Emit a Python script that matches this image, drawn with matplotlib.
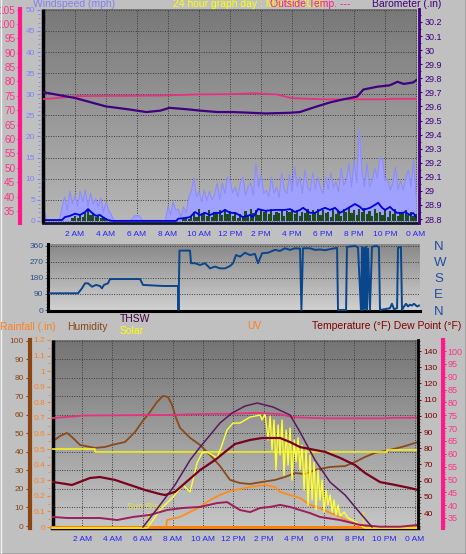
import numpy as np
import matplotlib
matplotlib.use("Agg")
import matplotlib.pyplot as plt
from matplotlib.colors import LinearSegmentedColormap
from matplotlib.ticker import MultipleLocator
from matplotlib.lines import Line2D

plt.rcParams['font.family'] = ['Liberation Sans', 'DejaVu Sans']

# ---------------- data ----------------
tick_hours = [2, 4, 6, 8, 10, 12, 14, 16, 18, 20, 22, 24]
tick_labels = ["2 AM", "4 AM", "6 AM", "8 AM", "10 AM", "12 PM",
               "2 PM", "4 PM", "6 PM", "8 PM", "10 PM", "0 AM"]

# barometer (in)
baro_t = [0.0, 1.0, 2.0, 3.0, 4.0, 5.4, 6.6, 7.5, 8.1, 9.2, 10.1, 11.2, 12.2,
          13.3, 14.3, 15.9, 16.5, 17.6, 18.5, 19.3, 20.2, 20.6, 21.5, 22.3,
          22.8, 23.2, 23.8, 24.06]
baro_v = [29.70, 29.68, 29.66, 29.63, 29.60, 29.58, 29.56, 29.57, 29.59, 29.58,
          29.57, 29.56, 29.56, 29.555, 29.55, 29.555, 29.56, 29.60, 29.63,
          29.65, 29.67, 29.72, 29.74, 29.75, 29.775, 29.76, 29.77, 29.79]

# inside temperature (°F), pink line in both panels
tin_t = [0.0, 1.6, 2.0, 7.5, 10.0, 12.0, 13.5, 15.0, 16.0, 18.0, 22.0, 22.5, 24.2]
tin_v = [73.9, 74.6, 74.9, 75.1, 75.5, 75.6, 75.9, 75.5, 74.2, 73.8, 73.8, 74.0, 74.0]

# wind, one sample every 10 minutes (mph)
wind_hi = [2.6, 0.2, 0.2, 0.2, 0.2, 0.2, 0.2,
           3.3, 5.7, 2.5, 7.0, 4.0, 6.0, 3.5, 7.0, 4.5, 7.3, 3.3, 6.6, 4.0, 5.2,
           3.5, 5.5, 2.0, 4.5, 2.5, 1.5, 0.2,
           0.1, 0.1, 0.1, 0.1, 0.1, 0.1,
           0.3, 1.2, 1.2, 1.2, 0.2,
           0.1, 0.1, 0.1, 0.1, 0.1, 0.1, 0.1, 0.1, 0.1,
           3.5, 1.5, 4.5, 2.5, 2.8, 1.0, 3.3, 2.0, 5.5, 7.0,
           10.2, 5.7, 7.0, 4.5, 7.3, 4.8, 7.0, 5.0, 6.2, 9.0,
           5.0, 9.0, 6.5, 10.4, 9.6, 6.6, 8.0, 5.7, 9.0, 10.4,
           6.0, 8.0, 9.0, 6.0, 13.7, 8.0, 10.9, 6.5, 7.3, 5.7,
           10.4, 6.5, 8.0, 5.5, 11.4, 7.3, 6.5, 10.9, 7.0, 12.8,
           8.0, 10.4, 6.5, 12.1, 8.0, 7.0, 11.4, 7.5, 10.4, 7.8,
           6.5, 10.4, 7.5, 11.4, 8.0, 9.2, 7.0, 12.6, 8.5, 9.5,
           13.7, 8.0, 14.5, 9.0, 21.6, 12.1, 8.0, 13.7, 8.0, 9.5,
           12.6, 10.0, 15.0, 14.5, 9.5, 10.0, 7.3, 9.0, 12.8, 7.5,
           9.5, 7.3, 10.0, 12.1, 8.0, 14.5, 5.7]
wind_low = [0] * 11 + \
    [0.8, 1.2, 0.6, 1.5, 1.0, 2.0, 2.6, 1.4, 1.8, 0.9, 1.2, 0.6, 0.9, 0.4, 0.3, 0.2] + \
    [0] * 27 + \
    [0.4, 0.8, 0.5, 1.2, 2.2, 1.0, 2.8, 1.5, 2.0, 1.2, 2.6, 1.0, 2.2, 1.8, 2.6, 1.4, 2.9, 1.6, 2.4, 1.2,
     2.0, 0.8, 1.6, 1.0, 2.4, 1.2, 2.9, 1.8, 2.6, 1.4, 2.8, 2.0, 2.6, 1.6, 2.9, 1.4, 2.2, 1.8, 2.7, 1.2,
     2.4, 2.0, 2.9, 1.6, 2.6, 1.2, 2.2, 1.8, 2.8, 1.4, 2.5, 2.0, 2.9, 1.5, 2.6, 1.8, 2.2, 1.0, 2.8, 1.6,
     2.4, 1.2, 2.9, 2.0, 3.1, 1.8, 2.6, 1.4, 2.8, 2.2, 3.0, 1.6, 2.4, 1.2, 2.7, 1.8, 2.2, 1.4, 2.6, 1.0,
     2.4, 1.6, 2.8, 1.2, 2.2, 1.8, 2.6, 1.4, 2.0, 1.2, 1.6]

wind_avg_t = [0, 1.16, 1.35, 1.68, 2.0, 2.32, 2.65, 2.84, 3.1, 3.35, 3.61, 3.87, 4.13,
              4.39, 8.52, 8.65, 9.1, 9.42, 9.74, 10.06, 10.39, 10.71, 11.03, 11.35,
              11.68, 12.0, 12.32, 12.84, 13.29, 13.48, 13.81, 14.26, 14.9, 15.55,
              15.87, 16.19, 16.52, 16.71, 17.16, 17.48, 17.81, 18.13, 18.45, 18.77,
              19.1, 19.42, 19.74, 20.06, 20.39, 20.58, 21.03, 21.35, 21.55, 21.81,
              22.0, 22.32, 22.52, 22.77, 23.1, 23.29, 23.61, 23.81, 24.0]
wind_avg_v = [0.2, 0.2, 0.9, 1.2, 1.7, 1.4, 2.1, 2.8, 1.9, 1.2, 1.4, 0.7, 0.2,
              0.0, 0.0, 0.5, 0.7, 0.9, 2.1, 1.4, 1.9, 1.4, 1.9, 1.9,
              2.6, 1.9, 1.9, 0.9, 1.4, 0.9, 2.8, 2.4, 2.6, 2.6,
              2.8, 2.1, 2.6, 3.1, 1.9, 1.9, 2.6, 3.1, 2.6, 3.1,
              1.9, 2.6, 3.3, 4.0, 3.3, 2.6, 3.1, 3.8, 4.3, 3.1,
              2.6, 3.3, 2.6, 1.9, 1.9, 2.1, 1.4, 1.9, 0.9]

# wind direction (degrees)
dir_t = [0.13, 1.94, 2.19, 2.39, 2.58, 2.84, 3.10, 3.35, 3.48, 3.61, 3.87, 4.0,
         5.94, 6.13, 7.42, 8.39, 8.42, 8.48, 9.16, 9.23, 9.48, 9.81, 10.13, 10.45,
         10.77, 11.1, 11.42, 11.74, 11.94, 12.13, 12.39, 12.71, 13.03, 13.35,
         13.55, 13.81, 14.19, 14.65, 14.97, 15.29, 15.61, 15.94, 16.26, 16.35,
         16.45, 16.9, 17.23, 17.55, 17.87, 18.19, 18.52, 18.65, 18.71, 19.23,
         19.29, 19.61, 19.81, 20.0, 20.19, 20.26, 20.32, 20.39, 20.45, 20.52,
         20.58, 20.65, 20.77, 20.9, 21.03, 21.23, 21.35, 21.42, 21.74, 22.06,
         22.19, 22.32, 22.52, 22.58, 22.77, 22.84, 22.97, 23.1, 23.23, 23.35,
         23.48, 23.61, 23.81, 23.94]
dir_v = [94, 94, 122, 150, 150, 131, 141, 135, 122, 141, 150, 174,
         174, 141, 135, 135, 0, 334, 334, 263, 263, 253, 263, 234,
         244, 234, 234, 247, 263, 309, 300, 322, 309, 315,
         263, 319, 322, 338, 332, 347, 338, 347, 345, 0,
         347, 347, 338, 340, 336, 342, 347, 350, 0, 0,
         355, 358, 360, 352, 0, 355, 0, 350, 5, 355,
         0, 345, 0, 355, 358, 360, 350, 0, 5, 10,
         35, 5, 10, 350, 355, 0, 20, 35, 20, 30,
         25, 35, 20, 25]

# humidity (%)
hum_t = [0.07, 0.53, 0.99, 1.32, 1.85, 2.84, 3.51, 3.97, 4.83, 5.49, 5.95, 6.48,
         6.94, 7.34, 7.67, 7.94, 8.2, 8.47, 9.13, 9.79, 10.45, 11.11, 11.77,
         12.43, 13.1, 13.89, 14.75, 15.41, 16.07, 16.73, 17.39, 18.39, 19.38,
         20.04, 20.7, 21.36, 22.35, 23.35, 24.2]
hum_v = [45.9, 48.6, 50.3, 48.1, 43.8, 42.2, 42.7, 43.8, 45.4, 50.8, 56.2, 61.6,
         67.0, 70.3, 69.7, 65.4, 58.4, 53.0, 47.6, 43.8, 38.4, 32.4, 24.9,
         23.2, 22.7, 23.8, 24.9, 26.5, 28.6, 28.1, 30.3, 31.9, 32.4,
         34.6, 37.3, 39.5, 41.1, 43.2, 45.4]

# outside temperature (°F)
temp_t = [0.07, 0.53, 1.32, 2.51, 3.17, 4.17, 5.16, 6.15, 7.14, 7.47, 8.13, 8.8,
          9.79, 10.78, 11.44, 12.1, 13.1, 13.89, 15.08, 15.74, 16.4, 17.39,
          18.06, 19.05, 20.04, 20.7, 21.69, 22.69, 23.68, 24.2]
temp_v = [59.1, 58.5, 57.3, 61.6, 62.2, 60.4, 57.3, 54.2, 51.7, 51.1, 53.0, 58.5,
          66.5, 72.7, 77.7, 82.6, 85.1, 86.3, 86.3, 83.8, 80.7, 78.9,
          77.7, 74.0, 69.6, 64.7, 59.1, 57.3, 55.4, 54.2]

# THSW index (°F)
thsw_t = [6.02, 7.14, 8.13, 9.13, 9.79, 10.45, 11.11, 11.9, 12.76, 13.56, 14.62,
          15.74, 16.4, 17.39, 18.39, 19.38, 20.37, 21.16]
thsw_v = [31.4, 44.9, 57.3, 72.7, 80.7, 88.1, 95.6, 101.7, 106.0, 107.9, 105.4,
          100.5, 90.0, 72.7, 59.0, 51.1, 40.0, 31.4]

# dew point (°F)
dew_t = [0.07, 0.99, 3.17, 4.3, 5.36, 6.48, 7.61, 8.66, 9.79, 10.91, 11.57, 12.43,
         13.1, 13.76, 14.42, 15.08, 15.74, 16.4, 17.06, 17.72, 19.05, 20.37,
         21.69, 23.02, 24.2]
dew_v = [35.4, 35.0, 35.0, 34.2, 35.4, 36.2, 38.1, 38.9, 39.3, 40.8, 41.2, 38.1,
         37.3, 38.9, 39.3, 40.1, 39.3, 38.1, 36.9, 35.4, 34.2, 32.3,
         31.6, 31.6, 32.3]

# solar radiation (W/m2)
solar_t = [0.0, 6.28, 6.35, 7.14, 8.0, 8.66, 9.13, 9.59, 9.92, 10.25, 10.91, 11.24,
           11.57, 11.97, 12.43, 13.1, 13.76, 13.89, 14.09, 14.29, 14.42, 14.55,
           14.68, 14.81, 14.95, 15.08, 15.21, 15.34, 15.48, 15.61, 15.74, 15.87,
           16.01, 16.14, 16.27, 16.4, 16.53, 16.67, 16.8, 16.93, 17.06, 17.2,
           17.33, 17.46, 17.59, 17.72, 17.86, 17.99, 18.12, 18.25, 18.39, 18.52,
           18.65, 18.78, 18.92, 19.05, 19.31, 19.58, 19.84, 20.11, 20.37, 20.57,
           20.7, 24.2]
solar_v = [0, 0, 6, 105, 181, 252, 211, 380, 439, 445, 410, 486,
           573, 614, 614, 649, 661, 632, 667, 515, 655, 456,
           632, 339, 603, 427, 632, 310, 573, 369, 585, 281,
           515, 386, 527, 339, 486, 222, 456, 135, 427, 164,
           386, 105, 339, 164, 281, 94, 222, 135, 193, 94,
           164, 76, 135, 70, 94, 59, 47, 35, 18, 6,
           0, 0]
solar_ref_t = [0.0, 2.84, 2.84, 22.16, 22.16, 24.2]
solar_ref_v = [462, 462, 445, 445, 456, 456]
sunrise = 6.35
sunset = 20.57

# UV index
uv_t = [7.54, 7.6, 8.47, 9.79, 10.45, 11.11, 11.77, 13.1, 14.09, 14.75, 15.08,
        15.74, 16.4, 17.06, 17.72, 18.39, 19.05, 19.71, 20.37, 20.7]
uv_v = [0, 0.68, 0.94, 1.79, 2.38, 2.81, 3.15, 3.49, 3.66, 3.49, 3.06,
        2.81, 2.55, 1.96, 1.7, 1.28, 0.94, 0.51, 0.26, 0]

# rainfall (in)
rain_t = [0.0, 24.2]
rain_v = [0.0, 0.0]

# ---------------- helpers ----------------
W, H = 466, 554
BG = '#c0c0c0'
PX = 0.72  # points per pixel at 100 dpi


def box(l, t, r, b):
    return [l / W, 1 - b / H, (r - l) / W, (b - t) / H]


def backdrop(ax, top, bottom):
    grad = np.linspace(0, 1, 256).reshape(-1, 1)
    cmap = LinearSegmentedColormap.from_list('bg', [top, bottom])
    ax.imshow(grad, extent=[0, 1, 0, 1], transform=ax.transAxes, aspect='auto',
              cmap=cmap, zorder=0, interpolation='bilinear')


def left_twin(ax):
    tw = ax.twinx()
    tw.yaxis.tick_left()
    tw.spines['right'].set_visible(False)
    tw.spines['left'].set_visible(True)
    tw.spines['top'].set_visible(False)
    tw.spines['bottom'].set_visible(False)
    return tw


def yticks_style(ax, color, labelcolor, minor, length=3.0, size=6.0):
    ax.yaxis.set_minor_locator(MultipleLocator(minor))
    ax.tick_params(axis='y', which='major', colors=color, labelcolor=labelcolor,
                   labelsize=size, length=length * PX, width=0.8, pad=1.2)
    ax.tick_params(axis='y', which='minor', colors=color, length=1.6 * PX, width=0.6)


def vborder(ax, x, color='k', lw=2.5):
    ax.plot([x, x], [0, 1], transform=ax.transAxes, color=color, lw=lw,
            clip_on=False, zorder=6, solid_capstyle='butt')


fig = plt.figure(figsize=(W / 100, H / 100), dpi=100, facecolor=BG)
grid_kw = dict(color='#3c3c3c', linestyle=(0, (1, 1.5)), linewidth=0.7)

# ---------------- top panel : wind / barometer ----------------
ax_t = fig.add_axes(box(43, 9, 417, 223))
backdrop(ax_t, '#787878', '#b8b8b8')
wind_time = np.arange(len(wind_hi)) / 6
ax_t.fill_between(wind_time, 0, wind_hi, color='#a0a0ff', lw=0, zorder=2)
ax_t.plot(wind_time, wind_hi, color='#8c8cff', lw=0.8, zorder=2)
ax_t.bar(wind_time, wind_low, width=0.14, color='#1e4a1e', zorder=3)
ax_t.plot(wind_avg_t, wind_avg_v, color='#0000e6', lw=1.3, zorder=4)
ax_t.set_xlim(-0.065, 24.06)
ax_t.set_ylim(-0.5, 50.2)
ax_t.set_yticks(range(0, 51, 5))
ax_t.set_xticks(tick_hours)
ax_t.set_xticklabels(tick_labels)
ax_t.tick_params(axis='x', length=0, pad=6, labelsize=6, labelcolor='#2323ff')
yticks_style(ax_t, '#8080ff', '#8080ff', 1)
ax_t.grid(True, **grid_kw)
for g in ax_t.get_xgridlines() + ax_t.get_ygridlines():
    g.set_zorder(1)
ax_t.spines['left'].set_position(('outward', 3 * PX))
ax_t.spines['left'].set_visible(False)
ax_t.spines['top'].set_visible(False)
ax_t.spines['right'].set_visible(False)
ax_t.spines['bottom'].set_color('#101830')
ax_t.spines['bottom'].set_linewidth(2)
vborder(ax_t, 0)

ax_pk = left_twin(ax_t)
ax_pk.plot(tin_t, tin_v, color='#e8307f', lw=1.3)
ax_pk.set_ylim(30.8, 105.2)
ax_pk.set_yticks(range(35, 106, 5))
yticks_style(ax_pk, '#ff1a8c', '#ff3388', 1, size=7.2)
ax_pk.spines['left'].set_position(('outward', 23 * PX))
ax_pk.spines['left'].set_color('#ff1a8c')
ax_pk.spines['left'].set_linewidth(3)

ax_ba = ax_t.twinx()
ax_ba.plot(baro_t, baro_v, color='#400080', lw=1.6)
ax_ba.set_ylim(28.772, 30.292)
baro_ticks = [28.8, 28.9, 29.0, 29.1, 29.2, 29.3, 29.4, 29.5, 29.6, 29.7, 29.8,
              29.9, 30.0, 30.1, 30.2]
ax_ba.set_yticks(baro_ticks)
ax_ba.set_yticklabels([f"{v:g}" for v in baro_ticks])
yticks_style(ax_ba, '#400080', '#400080', 0.05, size=6.5)
ax_ba.tick_params(axis='y', pad=2)
for s in ['left', 'top', 'bottom']:
    ax_ba.spines[s].set_visible(False)
ax_ba.spines['right'].set_position(('outward', 2 * PX))
ax_ba.spines['right'].set_color('#400080')
ax_ba.spines['right'].set_linewidth(2)

# ---------------- middle panel : wind direction ----------------
ax_m = fig.add_axes(box(48, 244, 420, 311))
backdrop(ax_m, '#888888', '#d2d2d2')
ax_m.plot(dir_t, dir_v, color='#0a468c', lw=1.4, zorder=3)
ax_m.set_xlim(0, 24)
ax_m.set_ylim(-5.6, 371)
ax_m.set_xticks(tick_hours)
ax_m.tick_params(axis='x', length=0, labelbottom=False)
ax_m.set_yticks([0, 90, 180, 270, 360])
ax_m.set_yticklabels(['0', '90', '180', '270', '360'])
yticks_style(ax_m, '#3a5a9a', '#2e4f8c', 18)
ax_m.grid(True, axis='y', **grid_kw)
for g in ax_m.get_ygridlines():
    g.set_zorder(1)
for s in ['top', 'right']:
    ax_m.spines[s].set_visible(False)
ax_m.spines['left'].set_linewidth(2.2)
ax_m.spines['bottom'].set_linewidth(2.2)

ax_m2 = ax_m.twinx()
ax_m2.set_ylim(ax_m.get_ylim())
ax_m2.set_yticks([0, 90, 180, 270, 360])
ax_m2.set_yticklabels(['N', 'E', 'S', 'W', 'N'])
ax_m2.tick_params(axis='y', length=0, pad=14 * PX, labelsize=9.5, labelcolor='#1f4f9f')
for s in ax_m2.spines.values():
    s.set_visible(False)

# ---------------- bottom panel : temperatures / humidity / solar ----------------
ax_b = fig.add_axes(box(52, 340, 418, 528))
backdrop(ax_b, '#747474', '#c6c6c6')
ax_b.plot(hum_t, hum_v, color='#8b4a1a', lw=1.3, zorder=3)
ax_b.set_xlim(0, 24.2)
ax_b.set_ylim(-1.08, 100.5)
ax_b.set_yticks(range(0, 101, 10))
ax_b.set_xticks(tick_hours)
ax_b.set_xticklabels(tick_labels)
ax_b.tick_params(axis='x', length=0, pad=6, labelsize=6, labelcolor='#2323ff')
yticks_style(ax_b, '#8b4513', '#8b4513', 2, length=4.5)
ax_b.grid(True, **grid_kw)
for g in ax_b.get_xgridlines() + ax_b.get_ygridlines():
    g.set_zorder(1)
ax_b.spines['left'].set_position(('outward', 22 * PX))
ax_b.spines['left'].set_color('#8b4513')
ax_b.spines['left'].set_linewidth(3)
ax_b.spines['top'].set_visible(False)
ax_b.spines['right'].set_visible(False)
ax_b.spines['bottom'].set_linewidth(2.5)
vborder(ax_b, 0.003)

ax_rn = left_twin(ax_b)
ax_rn.plot(rain_t, rain_v, color='#ff7f00', lw=2.2, clip_on=False)
ax_rn.set_ylim(-0.0064, 1.2)
rain_ticks = [0, 0.1, 0.2, 0.3, 0.4, 0.5, 0.6, 0.7, 0.8, 0.9, 1.0, 1.1, 1.2]
ax_rn.set_yticks(rain_ticks)
ax_rn.set_yticklabels([f"{v:g}" for v in rain_ticks])
yticks_style(ax_rn, '#ff8020', '#ff8020', 0.05)
ax_rn.spines['left'].set_visible(False)
ax_rn.spines['left'].set_position(('outward', 2 * PX))

ax_uv = ax_b.twinx()
ax_uv.axis('off')
ax_uv.set_ylim(0, 16)
ax_uv.plot(uv_t, uv_v, color='#ff8c1a', lw=1.3)

ax_sol = ax_b.twinx()
ax_sol.axis('off')
ax_sol.set_ylim(0, 1100)
ax_sol.plot(solar_ref_t, solar_ref_v, color='#f4f020', lw=1.2)
ax_sol.plot(solar_t, solar_v, color='#ffff30', lw=1.0, clip_on=False)
ax_sol.plot([sunrise, sunrise], [6, 88], color='#f0e020', lw=1)
ax_sol.plot([sunset, sunset], [6, 94], color='#f0e020', lw=1)
ax_sol.text(sunrise - 0.15, 123, 'Sun Rise', color='#e8e040', fontsize=6.5,
            ha='center', va='center')

ax_dw = ax_b.twinx()
ax_dw.plot(dew_t, dew_v, color='#9c1f5b', lw=1.4)
ax_dw.plot(tin_t, tin_v, color='#e8307f', lw=1.3)
ax_dw.set_ylim(31.1, 104.3)
ax_dw.set_yticks(range(35, 101, 5))
yticks_style(ax_dw, '#ff1a8c', '#ff3388', 1, size=6.5)
for s in ['left', 'top', 'bottom']:
    ax_dw.spines[s].set_visible(False)
ax_dw.spines['right'].set_position(('outward', 25 * PX))
ax_dw.spines['right'].set_color('#ff1a8c')
ax_dw.spines['right'].set_linewidth(3)

ax_tp = ax_b.twinx()
ax_tp.plot(thsw_t, thsw_v, color='#5a1a5a', lw=1.1)
ax_tp.plot(temp_t, temp_v, color='#7a0020', lw=1.6)
ax_tp.set_ylim(30.74, 146.8)
ax_tp.set_yticks(range(40, 141, 10))
yticks_style(ax_tp, '#800000', '#800000', 2)
ax_tp.tick_params(axis='y', pad=2)
for s in ['left', 'top', 'bottom']:
    ax_tp.spines[s].set_visible(False)
ax_tp.spines['right'].set_color('k')
ax_tp.spines['right'].set_linewidth(2)

# ---------------- header texts ----------------
def ftext(x, y, s, color, size=7.5, ha='left'):
    fig.text(x / W, 1 - y / H, s, color=color, fontsize=size, ha=ha, va='center')


ftext(33, 4, 'Windspeed (mph)', '#8080ff')
ftext(173, 4, '24 hour graph day : Mar 04 2026', '#ffff00')
ftext(350, 4, 'Outside Temp. ---', '#ff1a8c', ha='right')
ftext(372, 4, 'Barometer (.in)', '#400080')

ftext(0, 327, 'Rainfall (.in)', '#ff8020')
ftext(67, 327, 'Humidity', '#8b4513')
ftext(120, 319, 'THSW', '#400040')
ftext(120, 331, 'Solar', '#ffff00')
ftext(247, 326, 'UV', '#ff8020')
ftext(312, 326, 'Temperature (°F) Dew Point (°F)', '#800000')

# window frame
fig.add_artist(Line2D([0, 1], [0.5 / H, 0.5 / H], color='#404040', lw=1))
fig.add_artist(Line2D([1 - 0.5 / W, 1 - 0.5 / W], [0, 1], color='#404040', lw=1))
fig.add_artist(Line2D([0.5 / W, 0.5 / W], [0, 1], color='#f0f0f0', lw=1))

fig.savefig('out.png', dpi=100, facecolor=BG)
